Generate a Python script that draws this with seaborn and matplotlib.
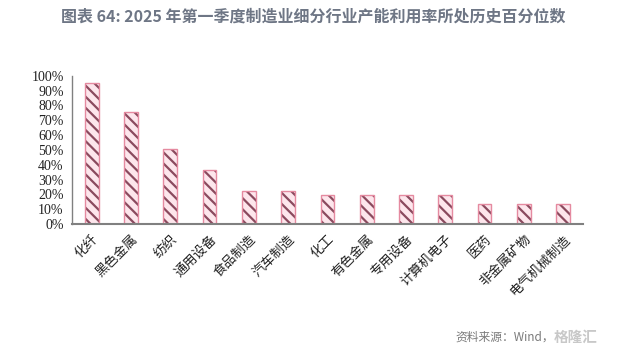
import matplotlib
matplotlib.use("Agg")
import matplotlib.pyplot as plt
import seaborn as sns
import numpy as np
import pandas as pd

categories = ["化纤", "黑色金属", "纺织", "通用设备", "食品制造", "汽车制造", "化工",
              "有色金属", "专用设备", "计算机电子", "医药", "非金属矿物", "电气机械制造"]
values = [0.95, 0.755, 0.505, 0.365, 0.223, 0.223, 0.197, 0.197, 0.197, 0.197, 0.135, 0.135, 0.135]
yticks = [0, 0.1, 0.2, 0.3, 0.4, 0.5, 0.6, 0.7, 0.8, 0.9, 1.0]
ytick_labels = ["0%", "10%", "20%", "30%", "40%", "50%", "60%", "70%", "80%", "90%", "100%"]

sns.set_theme(style="white")
plt.rcParams['font.family'] = ['Noto Sans CJK SC', 'DejaVu Sans']
plt.rcParams['hatch.linewidth'] = 1.6

df = pd.DataFrame({"cat": categories, "val": values})

fig = plt.figure(figsize=(6.26, 3.54), dpi=100)
ax = fig.add_axes([0.115, 0.367, 0.816, 0.419])

sns.barplot(data=df, x="cat", y="val", ax=ax, color="#fde6ec", width=0.35,
            edgecolor="#8a4a5e", linewidth=0, hatch="\\\\\\", saturation=1)
sns.barplot(data=df, x="cat", y="val", ax=ax, fill=False, width=0.35,
            edgecolor="#e58aa0", linewidth=1.0)

ax.set_xlim(-0.5, len(categories) - 0.5)
ax.set_ylim(0, 1.0)
ax.set_xlabel("")
ax.set_ylabel("")

ax.set_yticks(yticks)
ax.set_yticklabels(ytick_labels, fontfamily="Liberation Serif", fontsize=10, color="#222222")

ax.set_xticks(range(len(categories)))
ax.set_xticklabels(categories, rotation=45, ha="right", rotation_mode="anchor",
                   fontsize=9.5, color="#222222")
ax.set_xticks(np.arange(-0.5, len(categories) + 0.5, 1), minor=True)
ax.tick_params(axis="x", which="major", length=0, pad=6)
ax.tick_params(axis="x", which="minor", length=4, width=1, color="#333333", direction="out")
ax.tick_params(axis="y", which="major", length=4, width=1, color="#333333", direction="out", pad=2)

for s in ["top", "right"]:
    ax.spines[s].set_visible(False)
ax.spines["left"].set_color("#808080")
ax.spines["bottom"].set_color("#808080")
ax.spines["left"].set_linewidth(1.0)
ax.spines["bottom"].set_linewidth(1.5)

fig.text(0.5, 0.952, "图表 64: 2025 年第一季度制造业细分行业产能利用率所处历史百分位数",
         ha="center", va="center", fontsize=11.5, color="#6e7685", fontweight="semibold")
fig.text(0.727, 0.048, "资料来源：Wind，", ha="left", va="center", fontsize=8.5, color="#7a7a7a")
fig.text(0.885, 0.048, "格隆汇", ha="left", va="center", fontsize=10.5, color="#c8c8c8",
         fontweight="bold")

fig.savefig("out.png", dpi=100)
